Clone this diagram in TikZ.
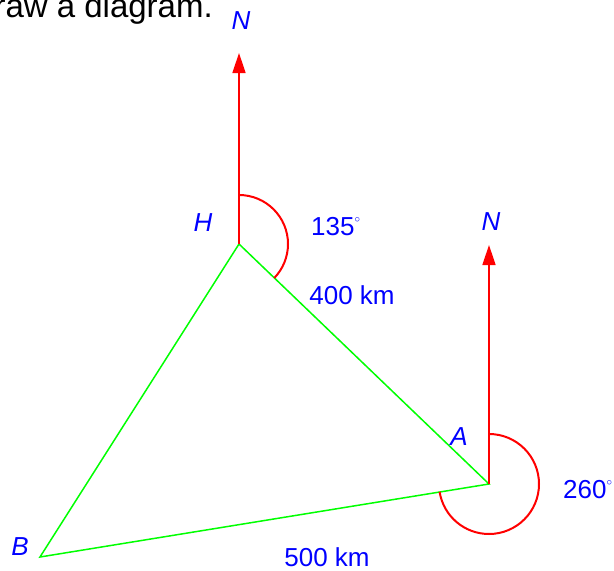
\documentclass[tikz,border=0pt]{standalone}
\usepackage{fontspec}
\setmainfont{Liberation Sans}
\usetikzlibrary{arrows.meta}
\newcommand{\degmark}{\raisebox{0.5em}{\fontsize{11}{11}\selectfont$\circ$}}
\begin{document}
\begin{tikzpicture}[x=1pt,y=-1pt,
  lbl/.style={text=blue, font=\fontsize{26}{30}\selectfont, inner sep=0pt},
  ital/.style={text=blue, font=\fontsize{26}{30}\selectfont\itshape, inner sep=0pt},
  side/.style={draw=green, line width=1.5pt},
  northarrow/.style={draw=red, line width=1.5pt, -{Triangle[length=20pt,width=13pt]}},
  anglearc/.style={draw=red, line width=2pt}]
\useasboundingbox (0,0) rectangle (614,571);
\clip (0,0) rectangle (614,571);
\node[anchor=base east, font=\fontsize{33}{38}\selectfont, inner sep=0pt] (q) at (213,17) {draw a diagram.};
\coordinate (H) at (239,244);
\coordinate (A) at (489,484);
\coordinate (B) at (40,557);
\coordinate (NH) at (239,53);
\coordinate (NA) at (489,245);
\draw[side] (H) -- (A) -- (B) -- cycle;
\draw[northarrow] (H) -- (NH);
\draw[northarrow] (A) -- (NA);
\draw[anglearc] ([yshift=49pt]H) arc[start angle=90, end angle=-44, radius=49pt];
\draw[anglearc] ([yshift=50pt]A) arc[start angle=90, end angle=-171, radius=50pt];
\node[ital] (nh) at (241,21) {N};
\node[ital] (na) at (491,222) {N};
\node[ital] (h) at (203,223) {H};
\node[ital] (a) at (459,437) {A};
\node[ital] (b) at (20,547) {B};
\node[lbl, anchor=west] (ang1) at (311,227) {135\degmark};
\node[lbl] (d1) at (352,295) {400 km};
\node[lbl, anchor=west] (ang2) at (563,490) {260\degmark};
\node[lbl] (d2) at (327,557) {500 km};
\end{tikzpicture}
\end{document}
